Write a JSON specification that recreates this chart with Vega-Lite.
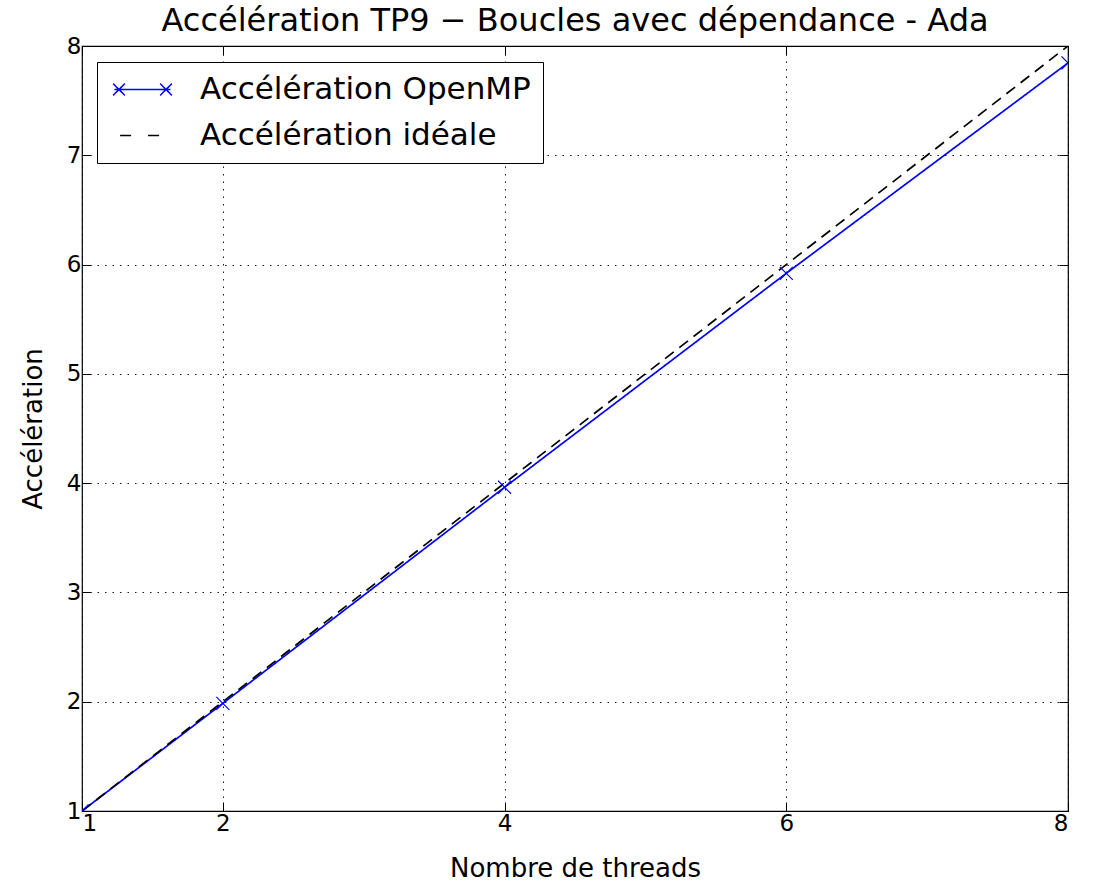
{
  "$schema": "https://vega.github.io/schema/vega-lite/v6.json",
  "width": 986,
  "height": 765,
  "autosize": {"type": "none"},
  "padding": {"left": 82, "top": 46, "right": 25, "bottom": 71},
  "background": "white",
  "config": {
    "font": "DejaVu Sans",
    "view": {"stroke": "black", "strokeWidth": 1.2},
    "axis": {
      "domain": false,
      "grid": true,
      "gridColor": "black",
      "gridDash": [1.5, 6],
      "gridWidth": 1,
      "gridOpacity": 0.9,
      "tickColor": "black",
      "tickSize": -9,
      "tickWidth": 1,
      "labelFont": "DejaVu Sans",
      "labelFontSize": 23,
      "labelColor": "black",
      "titleFont": "DejaVu Sans",
      "titleFontSize": 26,
      "titleFontWeight": "normal",
      "titleColor": "black"
    },
    "title": {"font": "DejaVu Sans", "fontSize": 32, "fontWeight": "normal", "color": "black"}
  },
  "title": {"text": "Accélération TP9 − Boucles avec dépendance - Ada", "offset": -3},
  "data": {
    "values": [
      {"threads": 1, "acc": 1, "serie": "Accélération OpenMP"},
      {"threads": 2, "acc": 1.985, "serie": "Accélération OpenMP"},
      {"threads": 4, "acc": 3.962, "serie": "Accélération OpenMP"},
      {"threads": 6, "acc": 5.92, "serie": "Accélération OpenMP"},
      {"threads": 8, "acc": 7.845, "serie": "Accélération OpenMP"},
      {"threads": 1, "acc": 1, "serie": "Accélération idéale"},
      {"threads": 2, "acc": 2, "serie": "Accélération idéale"},
      {"threads": 4, "acc": 4, "serie": "Accélération idéale"},
      {"threads": 6, "acc": 6, "serie": "Accélération idéale"},
      {"threads": 8, "acc": 8, "serie": "Accélération idéale"}
    ]
  },
  "resolve": {"axis": {"x": "independent", "y": "independent"}},
  "layer": [
    {
      "mark": {"type": "line", "strokeWidth": 1.7, "clip": true},
      "encoding": {
        "x": {
          "field": "threads", "type": "quantitative",
          "scale": {"domain": [1, 8], "nice": false, "zero": false},
          "axis": {"values": [1, 2, 4, 6, 8], "title": "Nombre de threads", "labelPadding": 10, "titlePadding": 20, "format": "d"}
        },
        "y": {
          "field": "acc", "type": "quantitative",
          "scale": {"domain": [1, 8], "nice": false, "zero": false},
          "axis": {"values": [1, 2, 3, 4, 5, 6, 7, 8], "title": "Accélération", "labelPadding": 10, "titlePadding": 20, "format": "d"}
        },
        "color": {
          "field": "serie", "type": "nominal",
          "scale": {"domain": ["Accélération OpenMP", "Accélération idéale"], "range": ["#0000ff", "#000000"]},
          "legend": {
            "title": null,
            "orient": "none",
            "legendX": 15,
            "legendY": 16,
            "strokeColor": "black",
            "fillColor": "white",
            "padding": 12,
            "cornerRadius": 0,
            "labelFontSize": 31,
            "labelFont": "DejaVu Sans",
            "labelColor": "black",
            "labelOffset": 42,
            "rowPadding": 14,
            "symbolSize": 784,
            "symbolOffset": 18,
            "symbolStrokeWidth": 1.5,
            "symbolType": "stroke",
            "labelLimit": 700,
            "encode": {
              "symbols": {
                "update": {
                  "shape": {"signal": "datum.value === 'Accélération OpenMP' ? 'M-2,0H2M-2.1,-0.42L-1.26,0.42M-2.1,0.42L-1.26,-0.42M1.26,-0.42L2.1,0.42M1.26,0.42L2.1,-0.42' : 'M-1.6,0H-0.6M0.4,0H1.4'"},
                  "strokeDash": {"value": []}
                }
              }
            }
          }
        },
        "strokeDash": {
          "field": "serie", "type": "nominal",
          "scale": {"domain": ["Accélération OpenMP", "Accélération idéale"], "range": [[1, 0], [11, 7]]},
          "legend": null
        }
      }
    },
    {
      "transform": [{"filter": "datum.serie === 'Accélération OpenMP'"}],
      "mark": {"type": "point", "shape": "M-1,-1L1,1M-1,1L1,-1", "size": 169, "filled": false, "color": "#0000ff", "strokeWidth": 1.2, "clip": true, "opacity": 1},
      "encoding": {
        "x": {"field": "threads", "type": "quantitative", "axis": {"orient": "top", "values": [1, 2, 4, 6, 8], "labels": false, "title": null, "grid": false}},
        "y": {"field": "acc", "type": "quantitative", "axis": {"orient": "right", "values": [1, 2, 3, 4, 5, 6, 7, 8], "labels": false, "title": null, "grid": false}}
      }
    }
  ]
}
